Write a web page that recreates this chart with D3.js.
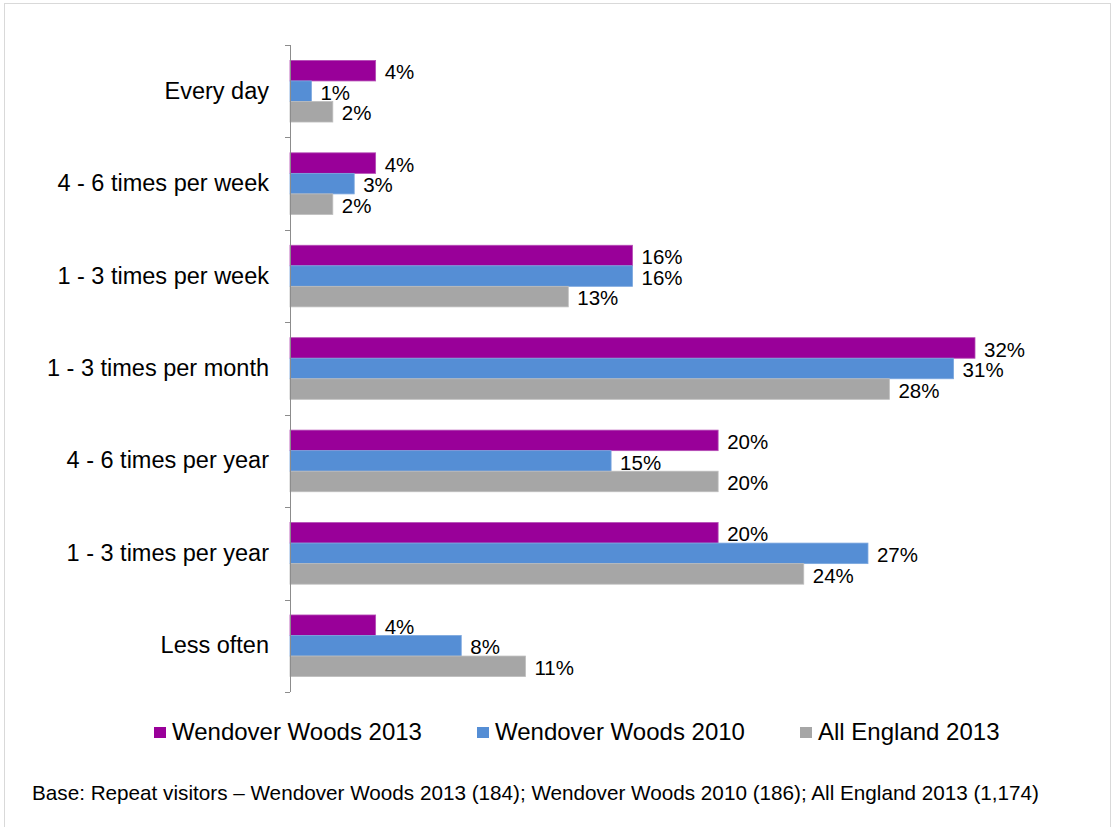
<!DOCTYPE html>
<html>
<head>
<meta charset="utf-8">
<script src="https://cdn.jsdelivr.net/npm/d3@7"></script>
<style>
  html, body { margin: 0; padding: 0; background: #fff; }
  svg { display: block; font-family: "Liberation Sans", Arial, sans-serif; }
</style>
</head>
<body>
<svg id="chart" width="1115" height="827"></svg>
<script>
// Visit frequency categories (top to bottom)
const categories = [
  "Every day",
  "4 - 6 times per week",
  "1 - 3 times per week",
  "1 - 3 times per month",
  "4 - 6 times per year",
  "1 - 3 times per year",
  "Less often"
];

// Series names and values (%)
const seriesNames = ["Wendover Woods 2013", "Wendover Woods 2010", "All England 2013"];
const wendover2013 = [4, 4, 16, 32, 20, 20, 4];
const wendover2010 = [1, 3, 16, 31, 15, 27, 8];
const allEngland2013 = [2, 2, 13, 28, 20, 24, 11];
const seriesColors = ["#990099", "#558ED5", "#A6A6A6"];
const seriesStrokes = ["#B54DB5", "#7BA7DE", "#BDBDBD"];

const footnote = "Base: Repeat visitors \u2013 Wendover Woods 2013 (184); Wendover Woods 2010 (186); All England 2013 (1,174)";

const seriesValues = [wendover2013, wendover2010, allEngland2013];

const svg = d3.select("#chart");

// Outer frame
svg.append("rect")
  .attr("x", 4.5).attr("y", 3.5)
  .attr("width", 1106).attr("height", 830)
  .attr("fill", "#fff")
  .attr("stroke", "#D9D9D9")
  .attr("stroke-width", 1);

const plotLeft = 290, plotTop = 45, plotBottom = 692;

const x = d3.scaleLinear().domain([0, 32]).range([plotLeft, 975]);
const y = d3.scaleBand().domain(categories).range([plotTop, plotBottom]).paddingInner(0).paddingOuter(0);
const inner = d3.scaleBand().domain(d3.range(seriesNames.length))
  .range([0, y.bandwidth()]).paddingOuter(0.75).paddingInner(0);

// Bars and value labels
categories.forEach((cat, ci) => {
  const g = svg.append("g").attr("transform", `translate(0,${y(cat)})`);
  seriesValues.forEach((vals, si) => {
    const v = vals[ci];
    g.append("rect")
      .attr("x", x(0))
      .attr("y", inner(si))
      .attr("width", x(v) - x(0))
      .attr("height", inner.bandwidth())
      .attr("fill", seriesColors[si])
      .attr("stroke", seriesStrokes[si])
      .attr("stroke-width", 0.8);
    g.append("text")
      .attr("x", x(v) + 9)
      .attr("y", inner(si) + inner.bandwidth() / 2 + 1.5)
      .attr("dy", "0.35em")
      .attr("font-size", 20.5)
      .attr("fill", "#000")
      .text(v + "%");
  });
});

// Category axis
const yAxis = d3.axisLeft(y).tickSize(0).tickPadding(21);
const axisG = svg.append("g")
  .attr("transform", `translate(${plotLeft},0)`)
  .call(yAxis);
axisG.select(".domain").remove();
axisG.selectAll("text")
  .attr("font-size", 23.5)
  .attr("font-family", "Liberation Sans, Arial, sans-serif")
  .attr("fill", "#000");

// Axis line and boundary ticks
svg.append("line")
  .attr("x1", plotLeft + 0.5).attr("x2", plotLeft + 0.5)
  .attr("y1", plotTop).attr("y2", plotBottom)
  .attr("stroke", "#8C8C8C").attr("stroke-width", 1);
const bounds = categories.map(c => y(c)).concat([plotBottom]);
svg.selectAll(".bt").data(bounds).enter().append("line")
  .attr("x1", plotLeft - 5).attr("x2", plotLeft)
  .attr("y1", d => Math.round(d) + 0.5).attr("y2", d => Math.round(d) + 0.5)
  .attr("stroke", "#8C8C8C").attr("stroke-width", 1);

// Legend
const legendX = [154, 477, 800];
seriesNames.forEach((name, i) => {
  svg.append("rect")
    .attr("x", legendX[i]).attr("y", 727)
    .attr("width", 12).attr("height", 11)
    .attr("fill", seriesColors[i]);
  svg.append("text")
    .attr("x", legendX[i] + 18).attr("y", 740)
    .attr("font-size", 24)
    .attr("fill", "#000")
    .text(name);
});

// Footnote
svg.append("text")
  .attr("x", 32).attr("y", 800)
  .attr("font-size", 20.7)
  .attr("fill", "#000")
  .text(footnote);
</script>
</body>
</html>
